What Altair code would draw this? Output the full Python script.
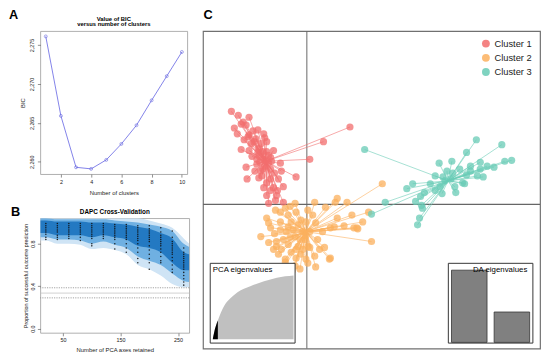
import altair as alt
import pandas as pd

FONT = "Liberation Sans"

# ---------------- Panel A : BIC vs number of clusters ----------------
bic_k = [1, 2, 3, 4, 5, 6, 7, 8, 9, 10]
bic_val = [2276.1, 2265.9, 2259.3, 2259.1, 2260.25, 2262.3, 2264.7, 2267.9, 2271.0, 2274.1]

# ---------------- Panel B : DAPC cross-validation ----------------
cv_axes = [20, 40, 60, 80, 100, 120, 140, 160, 180, 200, 220, 240, 260]
cv_success = [
    [0.99, 0.97, 0.95, 0.93, 0.91, 0.89, 0.86, 0.84],
    [0.99, 0.97, 0.95, 0.93, 0.91, 0.88, 0.86, 0.84],
    [0.99, 0.97, 0.95, 0.93, 0.91, 0.89, 0.87, 0.85],
    [0.99, 0.97, 0.95, 0.93, 0.91, 0.89, 0.86, 0.83],
    [0.99, 0.97, 0.95, 0.93, 0.91, 0.89, 0.87, 0.85, 0.80, 0.78],
    [0.99, 0.97, 0.95, 0.93, 0.91, 0.89, 0.87, 0.85],
    [0.98, 0.96, 0.94, 0.92, 0.90, 0.88, 0.86, 0.84, 0.80, 0.75],
    [0.98, 0.96, 0.94, 0.92, 0.90, 0.88, 0.86, 0.84, 0.80, 0.76, 0.72],
    [0.97, 0.95, 0.93, 0.91, 0.89, 0.87, 0.85, 0.83, 0.80, 0.76, 0.72, 0.66, 0.62],
    [0.97, 0.94, 0.92, 0.90, 0.88, 0.86, 0.84, 0.82, 0.78, 0.74, 0.70, 0.66, 0.62, 0.56],
    [0.95, 0.91, 0.88, 0.86, 0.84, 0.82, 0.80, 0.78, 0.75, 0.72, 0.68, 0.64, 0.62],
    [0.92, 0.86, 0.82, 0.80, 0.78, 0.76, 0.74, 0.72, 0.70, 0.67, 0.64, 0.60, 0.56, 0.53],
    [0.76, 0.72, 0.70, 0.68, 0.66, 0.64, 0.62, 0.60, 0.58, 0.56, 0.53, 0.50, 0.47, 0.44, 0.41],
]
band_x = [10.4, 20, 40, 60, 80, 100, 120, 140, 160, 180, 200, 220, 240, 260, 269.6]
outer_lo = [0.83, 0.83, 0.80, 0.80, 0.79, 0.75, 0.76, 0.74, 0.70, 0.60, 0.56, 0.50, 0.42, 0.39, 0.39]
outer_hi = [1.04, 1.04, 1.04, 1.04, 1.04, 1.04, 1.04, 1.04, 1.04, 1.04, 1.02, 0.99, 0.95, 0.85, 0.80]
mid_lo = [0.86, 0.86, 0.84, 0.84, 0.83, 0.80, 0.82, 0.79, 0.76, 0.68, 0.64, 0.60, 0.52, 0.45, 0.44]
mid_hi = [1.04, 1.04, 1.03, 1.03, 1.03, 1.03, 1.03, 1.02, 1.01, 1.00, 0.98, 0.96, 0.92, 0.80, 0.77]
core_lo = [0.90, 0.90, 0.88, 0.88, 0.88, 0.86, 0.88, 0.86, 0.84, 0.78, 0.76, 0.72, 0.62, 0.55, 0.55]
core_hi = [1.02, 1.02, 1.01, 1.01, 1.01, 1.00, 1.00, 0.99, 0.98, 0.96, 0.94, 0.90, 0.85, 0.72, 0.70]
chance_ci = [0.385, 0.29]
chance_mean = [0.335]

# ---------------- Panel C : DAPC scatter ----------------
clusters = ["Cluster 1", "Cluster 2", "Cluster 3"]
cluster_colors = ["#f26d6d", "#fbb05e", "#68cbb5"]
center_ld1 = [-4.2, -0.1, 14.4]
center_ld2 = [4.4, -2.8, 2.4]

c1_ld1 = [-7.7, -7.0, -5.9, -6.7, -7.4, -6.2, -7.1, -5.9, -5.0, -4.4, -5.2, -4.1, -6.7, -5.9, -4.9,
          -4.1, -3.4, -5.6, -4.9, -4.4, -6.2, -5.1, -3.9, -2.7, -4.7, -3.7, -2.6, -6.1, -4.9, -3.7,
          -2.9, -1.1, -4.4, -3.4, -2.4, -4.1, -3.1, -3.2, -3.7, 4.4, 1.7, 0.3, -2.4, -3.9, -5.4,
          -4.7, -4.5, -5.1, -4.3, -3.7, -5.7, -6.4, -4.6, -3.3, -4.1, -3.0, -5.3, -6.5, -4.2, -4.8,
          -3.9, -4.5, -5.0, -3.6, -4.3, -5.5, -6.0]
c1_ld2 = [9.5, 9.1, 8.9, 8.2, 7.8, 8.1, 7.2, 7.1, 7.6, 7.2, 6.7, 6.4, 5.6, 5.5, 5.7,
          5.4, 5.5, 4.9, 5.0, 4.6, 3.8, 4.1, 4.2, 4.2, 3.4, 3.6, 3.4, 2.6, 2.7, 2.6,
          2.6, 2.8, 1.7, 1.7, 1.8, 0.9, 0.9, 0.4, 1.4, 7.9, 6.4, 4.6, 0.2, 0.1, 6.4,
          6.2, 5.4, 4.6, 3.9, 4.8, 6.2, 6.6, 2.9, 3.2, 2.2, 1.4, 3.4, 8.4, 4.4, 4.3,
          5.0, 3.6, 5.3, 4.4, 6.8, 7.5, 6.9]

c2_ld1 = [-4.1, -3.2, -2.2, -1.2, -1.9, -1.1, -2.7, -1.6, -0.6, -2.7, -1.9, -2.4, -1.2, -0.2, -3.1,
          -1.9, -0.9, 0.1, -2.9, -1.6, -0.6, -2.2, -1.1, -0.1, 0.8, 2.4, 1.8, 1.1, 0.9, 1.6,
          2.4, 2.8, 3.8, 4.8, 0.8, 1.9, 2.9, 4.1, 0.1, 7.7, 3.1, 5.1, 6.3, 5.2, 6.6,
          2.3, 0.9, -0.7, 0.3, -3.1, -3.4, -2.2, -1.2, -3.7, -2.7, -0.9, -0.4, -1.4, -0.7, -0.1,
          0.3, -1.1, -0.4, -1.7, -2.1, -3.3, -3.9, -2.4, -1.5, 0.1, 1.3, -4.7, -3.9, 0.6, -0.1,
          -1.7, 3.1, 4.6, 5.7, -2.6]
c2_ld2 = [-1.4, -0.6, -0.4, 0.1, -1.1, -0.8, -1.8, -1.8, -1.6, -2.6, -2.3, -3.6, -3.3, -3.6, -4.3,
          -4.1, -4.3, -4.3, -5.1, -4.9, -5.1, -5.6, -5.5, -5.6, -5.3, -5.5, -4.4, -3.6, -1.9, -2.8,
          -2.4, -2.3, -2.2, -2.4, 0.2, -0.3, 0.2, 0.2, -0.6, 2.1, 0.6, -2.4, -0.8, -2.5, -3.8,
          -5.6, -6.4, -6.6, -4.4, -3.8, -4.6, -5.9, -6.3, -2.4, -0.8, -2.1, -2.8, -2.6, -3.6, -3.2,
          -2.8, -4.6, -4.6, -3.4, -2.8, -3.0, -3.9, -6.6, -6.8, -6.0, -4.6, -3.3, -1.9, -1.1, -1.8,
          -0.2, -1.4, -1.1, -1.8, -4.6]

c3_ld1 = [5.9, 17.3, 19.9, 16.3, 13.5, 14.8, 16.7, 17.7, 18.4, 19.1, 20.2, 20.9, 17.7, 14.9, 16.3,
          17.4, 18.0, 15.9, 15.1, 15.2, 10.8, 10.2, 12.0, 13.1, 13.8, 13.6, 11.6, 11.1, 11.7, 11.8,
          8.0, 6.6, 11.5, 11.3, 13.9, 12.6, 14.3, 16.1, 14.1, 14.7, 13.1, 16.7, 15.6]
c3_ld2 = [5.6, 6.6, 6.1, 5.3, 4.2, 4.4, 3.9, 4.3, 3.9, 3.8, 4.4, 4.5, 3.6, 3.2, 3.0,
          2.9, 2.8, 2.2, 1.8, 1.2, 2.1, 1.6, 1.2, 1.4, 1.1, 1.8, 0.8, 0.3, -0.1, -0.4,
          0.2, -1.0, -1.4, -2.1, 2.8, 2.1, 3.4, 2.1, 2.4, 2.6, 2.9, 3.4, 3.6]

# inset data
pca_axis = [0, 4, 7, 12, 17, 27, 40, 60, 83, 126, 172, 215, 271]
pca_cumvar = [0, 9.2, 15.4, 23.1, 29.2, 41.5, 53.8, 64.6, 73.8, 83.1, 90.8, 96.5, 100]
pca_retained = 17
da_eig = [618, 260]

# =====================================================================
def r_axis(**kw):
    base = dict(labelFont=FONT, titleFont=FONT, labelFontSize=5.5, titleFontSize=6,
                labelColor="#222", titleColor="#222", tickColor="#444", tickSize=3,
                tickWidth=0.6, domain=False, grid=False, titleFontWeight="normal")
    base.update(kw)
    return alt.Axis(**base)


def label(txt, dx, dy, size=13, weight="bold", align="left", baseline="alphabetic"):
    return alt.Chart(pd.DataFrame({"t": [txt]})).mark_text(
        align=align, baseline=baseline, fontSize=size, fontWeight=weight, font=FONT, color="black"
    ).encode(x=alt.value(dx), y=alt.value(dy), text="t:N")


# ---- A
WA, HA = 150, 146
dfA = pd.DataFrame({"k": bic_k, "bic": bic_val})
baseA = alt.Chart(dfA).encode(
    x=alt.X("k:Q", scale=alt.Scale(domain=[0.64, 10.36], nice=False, zero=False),
            axis=r_axis(values=[2, 4, 6, 8, 10], title="Number of clusters", labelPadding=3, titlePadding=4)),
    y=alt.Y("bic:Q", scale=alt.Scale(domain=[2258.42, 2276.78], nice=False, zero=False),
            axis=r_axis(values=[2260, 2265, 2270, 2275], title="BIC", labelAngle=270,
                        labelAlign="center", labelBaseline="bottom", labelPadding=3, titlePadding=4)),
)
lineA = baseA.mark_line(color="#7373e6", strokeWidth=0.9)
ptsA = baseA.mark_point(shape="circle", filled=False, size=9, color="#5c5cdc", strokeWidth=0.8)
chartA = alt.layer(
    lineA, ptsA, label("A", -32, -12),
    label("Value of BIC", WA / 2, -12.5, size=6, align="center", baseline="middle"),
    label("versus number of clusters", WA / 2, -7, size=6, align="center", baseline="middle"),
).properties(width=WA, height=HA, view=alt.ViewBackground(stroke="#9a9a9a", strokeWidth=0.8))

# ---- B
WB, HB = 152, 117
xB = alt.Scale(domain=[10.4, 269.6], nice=False, zero=False)
yB = alt.Scale(domain=[-0.04, 1.04], nice=False, zero=False)
dfBand = pd.DataFrame({"x": band_x, "olo": outer_lo, "ohi": outer_hi, "mlo": mid_lo,
                       "mhi": mid_hi, "clo": core_lo, "chi": core_hi})
xaxB = r_axis(values=[50, 100, 150, 200, 250], title="Number of PCA axes retained", labelPadding=2, titlePadding=3)
yaxB = r_axis(values=[0, 0.2, 0.4, 0.6, 0.8, 1.0], format=".1f",
              title="Proportion of successful outcome prediction", labelAngle=270,
              labelAlign="center", labelBaseline="bottom", labelPadding=1.5, titlePadding=3, titleFontSize=5.5)


def band(lo, hi, col):
    return alt.Chart(dfBand).mark_area(color=col, interpolate="monotone", clip=True).encode(
        x=alt.X("x:Q", scale=xB, axis=xaxB), y=alt.Y(f"{hi}:Q", scale=yB, axis=yaxB), y2=f"{lo}:Q")


rowsB = [(ax, v) for ax, col in zip(cv_axes, cv_success) for v in col]
dfB = pd.DataFrame(rowsB, columns=["axes", "succ"])
dotsB = alt.Chart(dfB).mark_circle(size=2.5, color="#111", opacity=0.9).encode(
    x=alt.X("axes:Q", scale=xB), y=alt.Y("succ:Q", scale=yB))
ciB = alt.Chart(pd.DataFrame({"v": chance_ci})).mark_rule(
    color="#777", strokeWidth=0.7, strokeDash=[1.2, 1.2]).encode(y=alt.Y("v:Q", scale=yB))
meanB = alt.Chart(pd.DataFrame({"v": chance_mean})).mark_rule(
    color="#bbb", strokeWidth=0.7).encode(y=alt.Y("v:Q", scale=yB))
chartB = alt.layer(
    band("olo", "ohi", "#cfe4f5"), band("mlo", "mhi", "#6fb0e2"), band("clo", "chi", "#2379c2"),
    dotsB, ciB, meanB, label("B", -30, -2),
    label("DAPC Cross-Validation", WB / 2, -6.6, size=6.5, align="center", baseline="middle"),
).properties(width=WB, height=HB, view=alt.ViewBackground(stroke="#9a9a9a", strokeWidth=0.8))

# ---- C
xC = alt.Scale(domain=[-10.6, 23.8], nice=False, zero=False)
yC = alt.Scale(domain=[-14.74, 17.7], nice=False, zero=False)
frames = []
for name, lx, ly, i in [("Cluster 1", c1_ld1, c1_ld2, 0), ("Cluster 2", c2_ld1, c2_ld2, 1),
                        ("Cluster 3", c3_ld1, c3_ld2, 2)]:
    frames.append(pd.DataFrame({"cluster": name, "ld1": lx, "ld2": ly,
                                "cx": center_ld1[i], "cy": center_ld2[i]}))
dfC = pd.concat(frames, ignore_index=True)

origin = alt.Chart(pd.DataFrame({"v": [0]}))
vline = origin.mark_rule(color="#666", strokeWidth=1).encode(x=alt.X("v:Q", scale=xC, axis=None))
hline = origin.mark_rule(color="#666", strokeWidth=1.2).encode(y=alt.Y("v:Q", scale=yC, axis=None))

spokes = []
for name, col in zip(clusters, cluster_colors):
    spokes.append(alt.Chart(dfC[dfC.cluster == name]).mark_rule(
        color=col, strokeWidth=0.8, opacity=0.75).encode(
        x=alt.X("ld1:Q", scale=xC, axis=None), y=alt.Y("ld2:Q", scale=yC, axis=None),
        x2="cx:Q", y2="cy:Q"))

ptsC = alt.Chart(dfC).mark_circle(size=54, opacity=0.75).encode(
    x=alt.X("ld1:Q", scale=xC, axis=None), y=alt.Y("ld2:Q", scale=yC, axis=None),
    color=alt.Color("cluster:N", scale=alt.Scale(domain=clusters, range=cluster_colors),
                    legend=alt.Legend(title=None, orient="top-right", offset=8, padding=0,
                                      symbolType="circle", symbolSize=64, symbolOpacity=0.85,
                                      symbolStrokeWidth=0, labelFont=FONT, labelFontSize=9.5,
                                      labelColor="#222", labelOffset=4, rowPadding=3.5)))

mainC = alt.layer(vline, hline, *spokes, ptsC)

one = pd.DataFrame({"t": ["x"]})
# PCA inset
pca_box = alt.Chart(one).mark_rect(fill="white", stroke="#333", strokeWidth=1).encode(
    x=alt.value(7.4), x2=alt.value(94), y=alt.value(237), y2=alt.value(318.4))
dfP = pd.DataFrame({"pc": pca_axis, "cum": pca_cumvar})
xP = alt.Scale(domain=[0, 271], range=[10, 92.4], nice=False, zero=False)
yP = alt.Scale(domain=[0, 100], range=[314.4, 249.4], nice=False, zero=False)
pca_area = alt.Chart(dfP).mark_area(color="#c0c0c0", interpolate="monotone").encode(
    x=alt.X("pc:Q", scale=xP, axis=None), y=alt.Y("cum:Q", scale=yP, axis=None))
pca_black = alt.Chart(dfP[dfP.pc <= pca_retained]).mark_area(color="black", interpolate="monotone").encode(
    x=alt.X("pc:Q", scale=xP, axis=None), y=alt.Y("cum:Q", scale=yP, axis=None))
pca_txt = label("PCA eigenvalues", 10, 243.7, size=8, weight="normal", baseline="middle")
pcaC = alt.layer(pca_box, pca_area, pca_black, pca_txt)

# DA inset
da_box = alt.Chart(one).mark_rect(fill="white", stroke="#333", strokeWidth=1).encode(
    x=alt.value(250.4), x2=alt.value(336.7), y=alt.value(237), y2=alt.value(318.4))
dfD = pd.DataFrame({"x0": [0.2, 1.4], "x1": [1.2, 2.4], "eig": da_eig, "base": [0, 0]})
xD = alt.Scale(domain=[0, 2.4], range=[246.4, 333.4], nice=False, zero=False)
yD = alt.Scale(domain=[0, max(da_eig)], range=[317.7, 244], nice=False, zero=False)
da_bars = alt.Chart(dfD).mark_rect(fill="#808080", stroke="#333", strokeWidth=0.8).encode(
    x=alt.X("x0:Q", scale=xD, axis=None), x2="x1:Q",
    y=alt.Y("eig:Q", scale=yD, axis=None), y2="base:Q")
da_txt = label("DA eigenvalues", 331, 243.7, size=8, weight="normal", align="right", baseline="middle")
daC = alt.layer(da_box, da_bars, da_txt)

chartC = alt.layer(mainC, pcaC, daC, label("C", 0.5, -12)).resolve_scale(
    x="independent", y="independent").properties(
    width=344, height=324,
    view=alt.ViewBackground(stroke="#707070", strokeWidth=1.2),
)

left = alt.vconcat(chartA, chartB, spacing=10)
chart = alt.hconcat(left, chartC, spacing=11).resolve_scale(color="independent").properties(
    padding={"left": 0, "top": -3, "right": 0, "bottom": 0}).configure(font=FONT)

chart.save("out.html", embed_options={"renderer": "svg", "actions": False})
